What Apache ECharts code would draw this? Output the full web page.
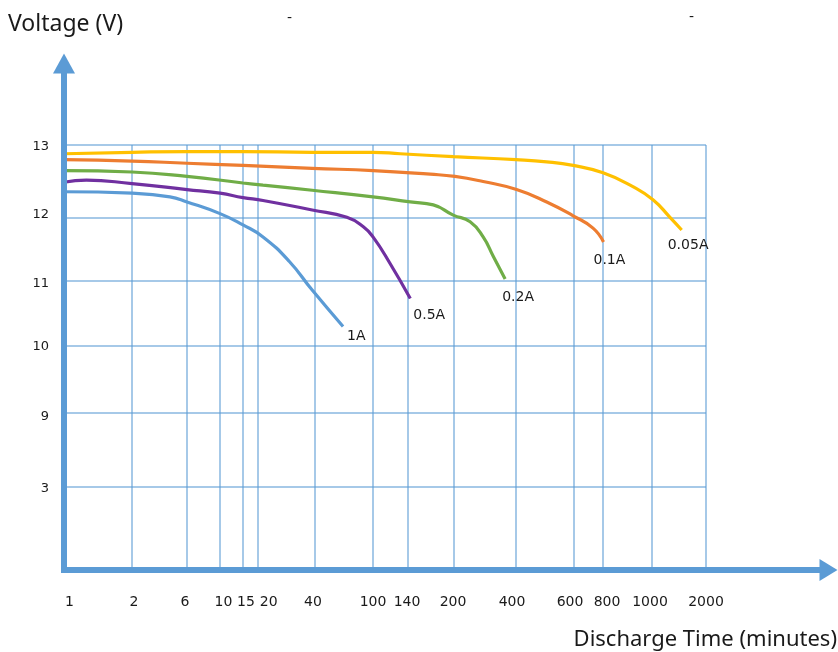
<!DOCTYPE html>
<html><head><meta charset="utf-8">
<script src="https://cdn.jsdelivr.net/npm/echarts@6/dist/echarts.min.js"></script>
<style>html,body{margin:0;padding:0;background:#fff}#c{width:838px;height:652px}</style>
</head><body><div id="c"></div>
<script>
// ---------- DATA ----------
// Tick labels
const timeTicks = [1, 2, 6, 10, 15, 20, 40, 100, 140, 200, 400, 600, 800, 1000, 2000]; // minutes
const voltTicks = [3, 9, 10, 11, 12, 13];                                            // volts

const seriesNames = ['0.05A', '0.1A', '0.2A', '0.5A', '1A'];
// [minutes, volts]
const curve005A = [[1,12.88],[2,12.90],[6,12.91],[15,12.91],[39,12.90],[100,12.90],[131,12.88],[199,12.84],[400,12.80],[506,12.77],[597,12.72],[800,12.62],[922,12.43],[1018,12.25],[1333,12.01],[1550,11.81]];
const curve01A  = [[1,12.80],[2,12.78],[6,12.75],[15,12.72],[39,12.68],[100,12.65],[169,12.60],[203,12.57],[294,12.50],[402,12.39],[506,12.22],[597,12.03],[731,11.84],[802,11.62]];
const curve02A  = [[1,12.65],[2,12.63],[6,12.57],[15,12.48],[21.75,12.45],[39,12.38],[100,12.29],[143,12.22],[173,12.18],[199,12.04],[252,11.94],[294,11.70],[327,11.39],[365,11.03]];
const curve05A  = [[1,12.49],[1.33,12.52],[2,12.47],[6,12.39],[10,12.34],[15,12.28],[21.75,12.24],[39,12.11],[73,12.01],[90,11.86],[100,11.70],[119,11.29],[143,10.73]];
const curve1A   = [[1,12.36],[2,12.34],[4.76,12.29],[6,12.22],[10,12.06],[15,11.89],[21.75,11.70],[31,11.31],[39,10.86],[69,10.30]];

// ---------- LAYOUT (hand-drawn, irregular axis spacing, % of axis length) ----------
const timeTickPos  = [0, 10.59, 19.16, 24.30, 27.88, 30.22, 39.10, 48.13, 53.58, 60.75, 70.40, 79.44, 83.96, 91.59, 100];
const timeLabelPos = [0.86, 10.90, 18.85, 24.84, 28.35, 31.88, 38.79, 48.13, 53.43, 60.59, 69.78, 78.82, 84.58, 91.28, 100];
const voltTickPos  = [19.53, 36.94, 52.71, 68.0, 82.82, 100];
const voltLabelPos = [19.1, 36.1, 52.5, 67.3, 83.6, 99.6];

const colors = ['#FFC000', '#ED7D31', '#70AD47', '#7030A0', '#5B9BD5'];
const labelOffsets = [[-14, 15], [-10, 18], [-3, 18], [3, 17], [4, 10]];

// piecewise-linear scale following the drawn grid
function interp(v, vals, pos) {
  for (let i = 0; i < vals.length - 1; i++) {
    if (v <= vals[i + 1] || i === vals.length - 2) {
      const t = (v - vals[i]) / (vals[i + 1] - vals[i]);
      return pos[i] + t * (pos[i + 1] - pos[i]);
    }
  }
}
function lookup(v, posArr, ticks) {
  let best = 0, d = Infinity;
  posArr.forEach((p, i) => { const dd = Math.abs(p - v); if (dd < d) { d = dd; best = i; } });
  return String(ticks[best]);
}

const curves = [curve005A, curve01A, curve02A, curve05A, curve1A];
const gridColor = 'rgba(91,155,213,0.72)';
const axisBlue = '#5B9BD5';
const txt = '#1a1a1a';

const chart = echarts.init(document.getElementById('c'), null, { renderer: 'canvas' });
chart.setOption({
  animation: false,
  backgroundColor: '#fff',
  title: [
    { text: 'Voltage (V)', left: 8, top: 13, padding: 0,
      textStyle: { fontFamily: 'Noto Sans', fontSize: 23, fontWeight: 'normal', color: txt } },
    { text: 'Discharge Time (minutes)', right: 1, top: 629, padding: 0,
      textStyle: { fontFamily: 'Noto Sans', fontSize: 22, fontWeight: 'normal', color: txt } }
  ],
  graphic: [
    { type: 'text', left: 287, top: 11, style: { text: '-', fontSize: 14, fontFamily: 'DejaVu Sans', fill: txt } },
    { type: 'text', left: 689, top: 10, style: { text: '-', fontSize: 14, fontFamily: 'DejaVu Sans', fill: txt } }
  ],
  grid: [
    { left: 64, top: 145, width: 642, height: 425, containLabel: false },
    { left: 64, top: 63.5, right: 9.5, bottom: 82, containLabel: false }
  ],
  xAxis: [
    { gridIndex: 0, type: 'value', min: 0, max: 100,
      axisLine: { show: false },
      axisTick: { show: false, customValues: timeTickPos },
      splitLine: { show: true, lineStyle: { color: gridColor, width: 1.5 } },
      axisLabel: { customValues: timeLabelPos, margin: 25, fontSize: 14, fontFamily: 'DejaVu Sans', color: txt,
        formatter: v => lookup(v, timeLabelPos, timeTicks) } },
    { gridIndex: 1, type: 'value', min: 0, max: 1, z: 10,
      axisLine: { show: true, symbol: ['none', 'triangle'], symbolSize: [22, 18], lineStyle: { color: axisBlue, width: 6, cap: 'square' } },
      axisTick: { show: false }, axisLabel: { show: false }, splitLine: { show: false } }
  ],
  yAxis: [
    { gridIndex: 0, type: 'value', min: 0, max: 100,
      axisLine: { show: false },
      axisTick: { show: false, customValues: voltTickPos },
      splitLine: { show: true, lineStyle: { color: gridColor, width: 1.5 } },
      axisLabel: { customValues: voltLabelPos, margin: 15, fontSize: 13, fontFamily: 'DejaVu Sans', color: txt,
        formatter: v => lookup(v, voltLabelPos, voltTicks) } },
    { gridIndex: 1, type: 'value', min: 0, max: 1, z: 10,
      axisLine: { show: true, onZero: false, symbol: ['none', 'triangle'], symbolSize: [22, 20], lineStyle: { color: axisBlue, width: 6, cap: 'square' } },
      axisTick: { show: false }, axisLabel: { show: false }, splitLine: { show: false } }
  ],
  series: curves.map((c, i) => ({
    name: seriesNames[i],
    type: 'line',
    xAxisIndex: 0, yAxisIndex: 0,
    showSymbol: false,
    smooth: 0.5,
    z: 3,
    lineStyle: { color: colors[i], width: 3.2 },
    itemStyle: { color: colors[i] },
    data: c.map(p => [interp(p[0], timeTicks, timeTickPos), interp(p[1], voltTicks, voltTickPos)]),
    endLabel: { show: true, formatter: seriesNames[i], distance: 0, offset: labelOffsets[i],
      fontSize: 14, fontFamily: 'DejaVu Sans', color: txt }
  }))
});
</script>
</body></html>
